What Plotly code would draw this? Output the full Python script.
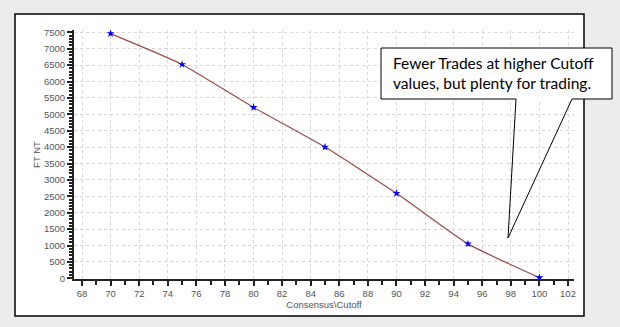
import plotly.graph_objects as go

# Data
cutoff = [70, 75, 80, 85, 90, 95, 100]
ft_nt = [7460, 6520, 5210, 4000, 2590, 1050, 20]
x_ticks = list(range(68, 103, 2))
y_ticks = list(range(0, 7501, 500))
callout_text = "Fewer Trades at higher Cutoff<br>values, but plenty for trading."

W, H = 620, 327
ML, MR, MT, MB = 74, 46, 30, 48
PW, PH = W - ML - MR, H - MT - MB


def px(xp):
    return (xp - ML) / PW


def py(yp):
    return (H - MB - yp) / PH


fig = go.Figure()
fig.add_trace(go.Scatter(
    x=cutoff, y=ft_nt, mode="lines+markers",
    line=dict(color="#9b4848", width=1.2, shape="spline", smoothing=0.5),
    marker=dict(symbol="star", size=6, color="#0000ff", line=dict(width=0)),
    showlegend=False, cliponaxis=False,
))

tickfont = dict(family="Liberation Sans, Arial, sans-serif", size=9.5, color="#555555")

fig.update_xaxes(
    range=[67.44, 102.42], tickvals=x_ticks, ticktext=[str(v) for v in x_ticks],
    showline=True, linecolor="#222222", linewidth=2,
    ticks="outside", ticklen=5, tickcolor="#222222", tickwidth=1.5,
    minor=dict(dtick=1, tick0=0, ticks="outside", ticklen=4, tickcolor="#222222", showgrid=False),
    showgrid=True, gridcolor="#d8d8d8", griddash="dot", gridwidth=1,
    zeroline=False, tickfont=tickfont,
    title=dict(text="Consensus\\Cutoff", font=dict(family="Liberation Sans, Arial, sans-serif", size=9.5, color="#555555"), standoff=2),
)
fig.update_yaxes(
    range=[-21, 7570], tickvals=y_ticks, ticktext=[str(v) for v in y_ticks],
    showline=True, linecolor="#222222", linewidth=2,
    ticks="outside", ticklen=5, tickcolor="#222222", tickwidth=1.5,
    minor=dict(dtick=100, tick0=0, ticks="outside", ticklen=3, tickcolor="#222222", showgrid=False),
    showgrid=True, gridcolor="#d8d8d8", griddash="dot", gridwidth=1,
    zeroline=False, tickfont=tickfont,
    title=dict(text="FT NT", font=dict(family="Liberation Sans, Arial, sans-serif", size=9.5, color="#555555"), standoff=2),
)

shapes = []
# White panel with black border
shapes.append(dict(type="rect", xref="paper", yref="paper",
                   x0=px(15), x1=px(584), y0=py(316), y1=py(14),
                   fillcolor="white", line=dict(color="black", width=1.5), layer="below"))
# Callout box (white fill covers panel border)
shapes.append(dict(type="rect", xref="paper", yref="paper",
                   x0=px(381), x1=px(612), y0=py(99), y1=py(48),
                   fillcolor="white", line=dict(width=0), layer="above"))
# Callout outline with pointer
pts = [(516, 99), (381, 99), (381, 48), (612, 48), (612, 99), (572, 99), (508, 238), (516, 99)]
path = "M " + " L ".join(f"{px(a)},{py(b)}" for a, b in pts)
shapes.append(dict(type="path", xref="paper", yref="paper", path=path,
                   line=dict(color="black", width=1), layer="above"))

fig.update_layout(
    width=W, height=H,
    margin=dict(l=ML, r=MR, t=MT, b=MB),
    paper_bgcolor="#ececec", plot_bgcolor="rgba(0,0,0,0)",
    shapes=shapes,
    annotations=[dict(
        text=callout_text, xref="paper", yref="paper",
        x=px(391), y=py(73), xanchor="left", yanchor="middle", align="left",
        showarrow=False,
        font=dict(family="Lato, Open Sans, sans-serif", size=15.5, color="black"),
    )],
)

fig.write_html("out.html")
